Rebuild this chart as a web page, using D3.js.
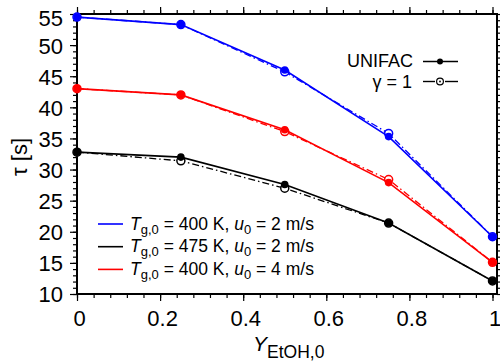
<!DOCTYPE html>
<html>
<head>
<meta charset="utf-8">
<script src="https://cdn.jsdelivr.net/npm/d3@7"></script>
<style>
  html, body { margin: 0; padding: 0; background: #fff; }
  svg { display: block; font-family: "Liberation Sans", Arial, Helvetica, sans-serif; }
</style>
</head>
<body>
<svg id="chart" width="500" height="362"></svg>
<script>
// Initial ethanol mass fraction of the droplet
const yEtOH = [0, 0.25, 0.5, 0.75, 1];

// Droplet lifetime tau [s]; UNIFAC activity vs. ideal mixture (gamma = 1)
const tau400u2Unifac = [54.5, 53.3, 46.0, 35.3, 19.2];
const tau400u2Ideal  = [54.5, 53.3, 45.7, 35.8, 19.2];
const tau475u2Unifac = [32.8, 32.0, 27.6, 21.4, 12.1];
const tau475u2Ideal  = [32.8, 31.4, 27.0, 21.4, 12.1];
const tau400u4Unifac = [43.0, 42.0, 36.4, 27.9, 15.1];
const tau400u4Ideal  = [43.0, 42.0, 36.1, 28.4, 15.1];

// Case descriptions: gas temperature [K] and inflow velocity [m/s]
const caseTemps  = [400, 475, 400];
const caseSpeeds = [2, 2, 4];
const caseColors = ["#0000ff", "#000000", "#ff0000"];

const xTicks = [0, 0.2, 0.4, 0.6, 0.8, 1];
const yTicks = [10, 15, 20, 25, 30, 35, 40, 45, 50, 55];

const cases = [
  { unifac: tau400u2Unifac, ideal: tau400u2Ideal },
  { unifac: tau475u2Unifac, ideal: tau475u2Ideal },
  { unifac: tau400u4Unifac, ideal: tau400u4Ideal }
].map((c, i) => ({ ...c, temp: caseTemps[i], speed: caseSpeeds[i], color: caseColors[i] }));

const svg = d3.select("#chart");
const L = 77, R = 497, T = 14, B = 294;

const x = d3.scaleLinear().domain([0, 1]).range([L, 492.5]);
const y = d3.scaleLinear().domain([10, 55]).range([B, T]);

const minorX = d3.range(0, 1.0001, 0.04);
const minorY = d3.range(10, 55.001, 1);

// Tick marks on all four sides (pointing outward)
function ticks(g, axis) { g.call(axis); g.select(".domain").remove(); g.selectAll("line").attr("stroke", "#000").attr("stroke-width", 1.2); }

const fmtX = d => d === 0 ? "0" : d === 1 ? "1" : d3.format(".1f")(d);

svg.append("g").attr("transform", `translate(0,${B})`)
  .call(g => ticks(g, d3.axisBottom(x).tickValues(minorX).tickSize(4).tickFormat("")));
svg.append("g").attr("transform", `translate(0,${B})`)
  .call(g => ticks(g, d3.axisBottom(x).tickValues(xTicks).tickSize(7).tickPadding(9).tickFormat(fmtX)))
  .call(g => g.selectAll("text").attr("font-size", 22).attr("fill", "#000").attr("dx", 2));

svg.append("g").attr("transform", `translate(0,${T})`)
  .call(g => ticks(g, d3.axisTop(x).tickValues(minorX).tickSize(4).tickFormat("")));
svg.append("g").attr("transform", `translate(0,${T})`)
  .call(g => ticks(g, d3.axisTop(x).tickValues(xTicks).tickSize(7).tickFormat("")));

svg.append("g").attr("transform", `translate(${L},0)`)
  .call(g => ticks(g, d3.axisLeft(y).tickValues(minorY).tickSize(4).tickFormat("")));
svg.append("g").attr("transform", `translate(${L},0)`)
  .call(g => ticks(g, d3.axisLeft(y).tickValues(yTicks).tickSize(7).tickPadding(7).tickFormat(d3.format("d"))))
  .call(g => g.selectAll("text").attr("font-size", 22).attr("fill", "#000")
    .attr("dy", d => d === 55 ? "0.5em" : "0.36em"));

svg.append("g").attr("transform", `translate(${R},0)`)
  .call(g => ticks(g, d3.axisRight(y).tickValues(minorY).tickSize(4).tickFormat("")));

// Plot frame
svg.append("rect").attr("x", L).attr("y", T).attr("width", R - L).attr("height", B - T)
  .attr("fill", "none").attr("stroke", "#000").attr("stroke-width", 2);

const line = d3.line().x((d, i) => x(yEtOH[i])).y(d => y(d));

const plot = svg.append("g");

// Ideal mixture (gamma = 1): dash-dot lines with open circles
cases.forEach(c => {
  plot.append("path").datum(c.ideal).attr("d", line)
    .attr("fill", "none").attr("stroke", c.color).attr("stroke-width", 1.3)
    .attr("stroke-dasharray", "7,3,1.5,3");
  plot.selectAll(null).data(c.ideal).join("circle")
    .attr("cx", (d, i) => x(yEtOH[i])).attr("cy", d => y(d)).attr("r", 4)
    .attr("fill", "#fff").attr("stroke", c.color).attr("stroke-width", 1.5);
});

// UNIFAC: solid lines with filled circles
cases.forEach(c => {
  plot.append("path").datum(c.unifac).attr("d", line)
    .attr("fill", "none").attr("stroke", c.color).attr("stroke-width", 1.6);
  plot.selectAll(null).data(c.unifac).join("circle")
    .attr("cx", (d, i) => x(yEtOH[i])).attr("cy", d => y(d)).attr("r", 3.8)
    .attr("fill", c.color);
});

// Legend: model type
const lg = svg.append("g").attr("font-size", 18);
lg.append("text").attr("x", 413).attr("y", 67).attr("text-anchor", "end").text("UNIFAC");
lg.append("line").attr("x1", 423).attr("x2", 458).attr("y1", 61.5).attr("y2", 61.5).attr("stroke", "#000").attr("stroke-width", 1.4);
lg.append("circle").attr("cx", 440).attr("cy", 61.5).attr("r", 3).attr("fill", "#000");

lg.append("text").attr("x", 412).attr("y", 88).attr("text-anchor", "end").text("\u03b3 = 1");
lg.append("line").attr("x1", 423).attr("x2", 435).attr("y1", 81.5).attr("y2", 81.5).attr("stroke", "#000").attr("stroke-width", 1.4);
lg.append("line").attr("x1", 445).attr("x2", 458).attr("y1", 81.5).attr("y2", 81.5).attr("stroke", "#000").attr("stroke-width", 1.4);
lg.append("circle").attr("cx", 440).attr("cy", 81.5).attr("r", 3.4).attr("fill", "#fff").attr("stroke", "#000").attr("stroke-width", 1.2);
lg.append("circle").attr("cx", 440).attr("cy", 81.5).attr("r", 0.9).attr("fill", "#000");

// Legend: operating conditions
const lc = svg.append("g").attr("font-size", 17.5);
cases.forEach((c, i) => {
  const yy = 224 + i * 22.7;
  lc.append("line").attr("x1", 98).attr("x2", 123).attr("y1", yy).attr("y2", yy)
    .attr("stroke", c.color).attr("stroke-width", 1.6);
  const t = lc.append("text").attr("x", 130).attr("y", yy + 5.5);
  t.append("tspan").attr("font-style", "italic").text("T");
  t.append("tspan").attr("font-size", 13).attr("dy", 4).text("g,0");
  t.append("tspan").attr("dy", -4).text(` = ${c.temp} K, `);
  t.append("tspan").attr("font-style", "italic").text("u");
  t.append("tspan").attr("font-size", 13).attr("dy", 4).text("0");
  t.append("tspan").attr("dy", -4).text(` = ${c.speed} m/s`);
});

// Axis titles
const xt = svg.append("text").attr("x", 253).attr("y", 351).attr("font-size", 21);
xt.append("tspan").attr("font-style", "italic").text("Y");
xt.append("tspan").attr("font-size", 17.5).attr("dy", 6.5).text("EtOH,0");

svg.append("text").attr("transform", "translate(27,157) rotate(-90)")
  .attr("text-anchor", "middle").attr("font-size", 22).text("\u03c4 [s]");
</script>
</body>
</html>
